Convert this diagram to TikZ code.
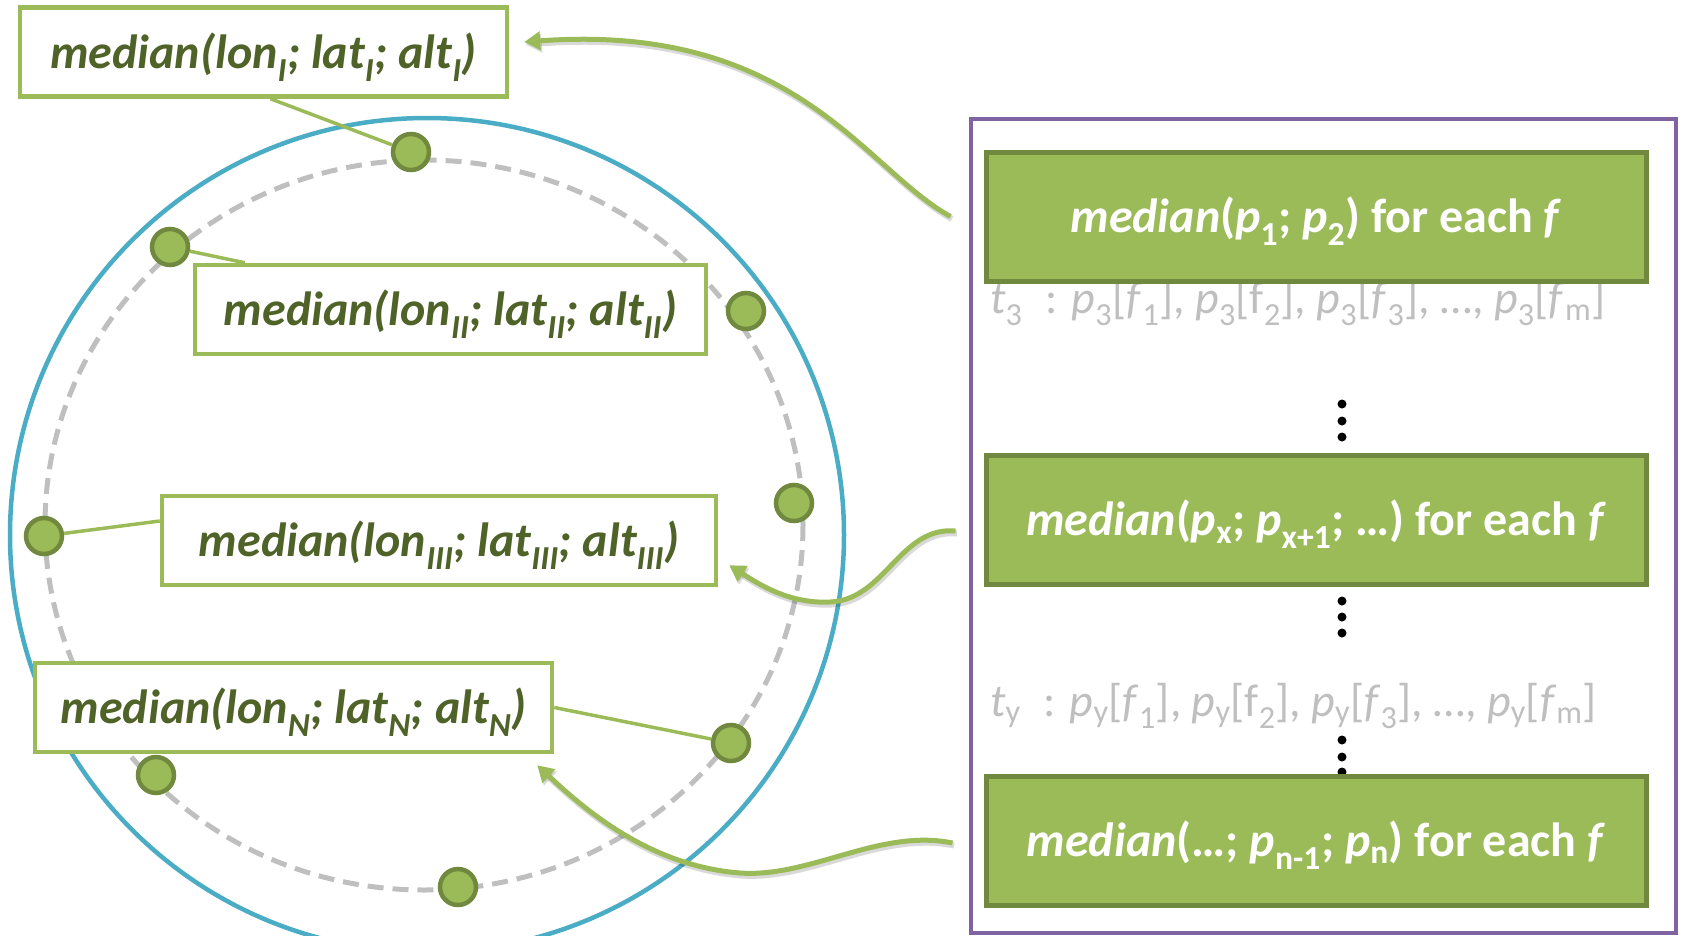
\documentclass[tikz,border=0pt]{standalone}
\usepackage{fontspec}
\setmainfont{Carlito}
\usetikzlibrary{arrows.meta}
\definecolor{leaf}{HTML}{9BBB59}
\definecolor{leafdark}{HTML}{71893F}
\definecolor{leafink}{HTML}{4F6228}
\definecolor{ringblue}{HTML}{4BACC6}
\definecolor{framepurple}{HTML}{8064A2}
\definecolor{softgray}{HTML}{BFBFBF}

\begin{document}
\begin{tikzpicture}[x=1pt,y=-1pt,
  lbl/.style={draw=leaf, line width=4.5pt, fill=white, inner sep=0pt,
    minimum height=89pt, text height=40pt, text depth=8pt, text=leafink,
    font=\fontsize{48}{52}\selectfont\bfseries\itshape},
  stage/.style={draw=leafdark, line width=5pt, fill=leaf, inner sep=0pt,
    minimum width=660pt, minimum height=129pt, text height=39pt, text depth=8pt,
    text=white, font=\fontsize{48}{52}\selectfont\bfseries},
  probe/.style={circle, draw=leafdark, line width=4.5pt, fill=leaf,
    minimum size=36pt, inner sep=0pt},
  tick/.style={circle, fill=black, minimum size=9pt, inner sep=0pt},
  conn/.style={draw=leaf, line width=3.5pt},
  flow/.style={draw=leaf, line width=5pt,
    -{Triangle[length=16pt,width=18pt]},
    preaction={draw=black, opacity=0.15, line width=6pt,
      transform canvas={xshift=1.5pt,yshift=-2.5pt}}},
  row/.style={anchor=base west, inner sep=0pt, text=softgray,
    font=\fontsize{46}{50}\selectfont},
  ring/.style={draw=softgray, line width=5pt, dash pattern=on 16pt off 9pt}
]
\useasboundingbox (0,0) rectangle (1682,935);
\clip (0,0) rectangle (1682,935);

% outer and inner rings
\draw[ringblue, line width=4.5pt] (427,535) circle [radius=417];
\draw[ring] (424,525) ellipse [x radius=379, y radius=365];

% right-hand frame
\draw[framepurple, line width=4.5pt] (971,119) rectangle (1676,933);

% probes on the ring
\node[probe] (d1) at (411,152) {};
\node[probe] (d2) at (170,247) {};
\node[probe] (d3) at (746,311) {};
\node[probe] (d4) at (794,503) {};
\node[probe] (d5) at (44,536) {};
\node[probe] (d6) at (731,743) {};
\node[probe] (d7) at (156,775) {};
\node[probe] (d8) at (458,887) {};

% labels
\node[lbl, minimum width=487pt] (l1) at (263.5,52)
  {median(lon\textsubscript{I}; lat\textsubscript{I}; alt\textsubscript{I})};
\node[lbl, minimum width=511pt] (l2) at (450.5,309.5)
  {median(lon\textsubscript{II}; lat\textsubscript{II}; alt\textsubscript{II})};
\node[lbl, minimum width=554pt] (l3) at (439,540.5)
  {median(lon\textsubscript{III}; lat\textsubscript{III}; alt\textsubscript{III})};
\node[lbl, minimum width=517pt] (l4) at (293.5,707.5)
  {median(lon\textsubscript{N}; lat\textsubscript{N}; alt\textsubscript{N})};

% leader lines
\draw[conn] ([xshift=7pt]l1.south) -- (d1);
\draw[conn] (d2) -- ([xshift=52pt]l2.north west);
\draw[conn] (d5) -- ([yshift=19.5pt]l3.west);
\draw[conn] (l4.east) -- (d6);

% vertical ellipses
\foreach \y [count=\i] in {404,421,437,601,617,633,740,757,772}
  \node[tick] (v\i) at (1342,\y) {};

% rows of values
\node[row] (r3) at (990,313) {\textit{t}\textsubscript{3}\enspace: \textit{p}\textsubscript{3}[\textit{f}\textsubscript{1}], \textit{p}\textsubscript{3}[f\textsubscript{2}], \textit{p}\textsubscript{3}[\textit{f}\textsubscript{3}], …, \textit{p}\textsubscript{3}[\textit{f}\textsubscript{m}]};
\node[row] (ry) at (990,716) {\textit{t}\textsubscript{y}\enspace: \textit{p}\textsubscript{y}[\textit{f}\textsubscript{1}], \textit{p}\textsubscript{y}[f\textsubscript{2}], \textit{p}\textsubscript{y}[\textit{f}\textsubscript{3}], …, \textit{p}\textsubscript{y}[\textit{f}\textsubscript{m}]};

% aggregation stages
\node[stage] (b1) at (1316,216.5)
  {\textit{median}(\textit{p}\textsubscript{1}; \textit{p}\textsubscript{2}) for each \textit{f}};
\node[stage] (b2) at (1316,520)
  {\textit{median}(\textit{p}\textsubscript{x}; \textit{p}\textsubscript{x+1}; …) for each \textit{f}};
\node[stage] (b3) at (1316,840.5)
  {\textit{median}(…; \textit{p}\textsubscript{n-1}; \textit{p}\textsubscript{n}) for each \textit{f}};

% flows back to the labels
\draw[flow] ([xshift=-33pt]b1.west) .. controls (865,170) and (795,22) .. ([xshift=15pt,yshift=10pt]l1.east);
\draw[flow] ([xshift=-28pt,yshift=-11pt]b2.west) .. controls (900,526) and (885,600) .. (830,602)
  .. controls (790,604) and (760,585) .. ([xshift=11pt,yshift=22pt]l3.south east);
\draw[flow] ([xshift=-31pt,yshift=-2.5pt]b3.west) .. controls (880,828) and (810,878) .. (740,873)
  .. controls (650,866) and (585,810) .. ([xshift=-17pt,yshift=-11pt]l4.south east);
\end{tikzpicture}
\end{document}
